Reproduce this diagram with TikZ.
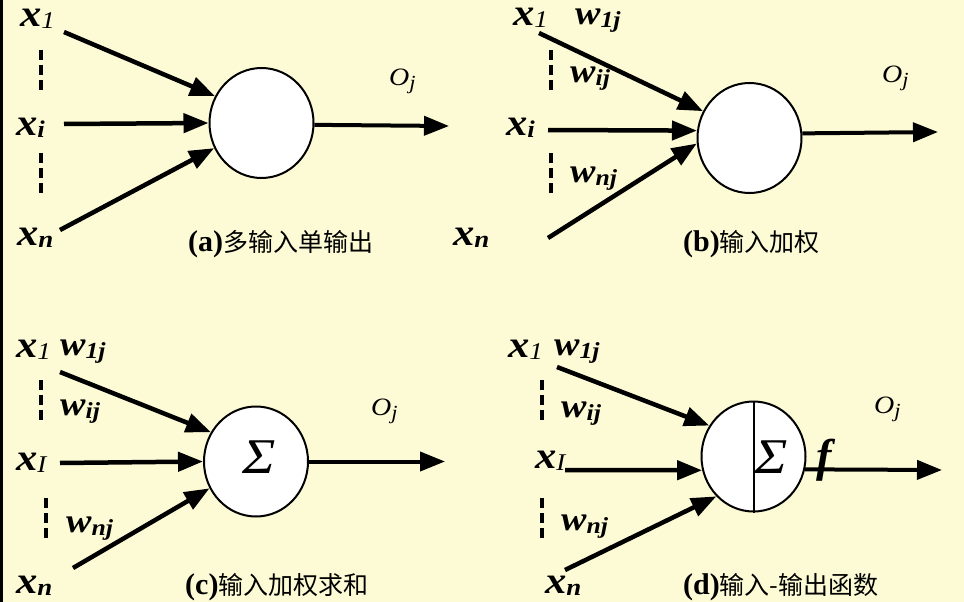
\documentclass[tikz,border=0pt]{standalone}
\usepackage{fontspec}
\usepackage{graphicx}
\setmainfont{Liberation Serif}
\newfontfamily\cjk{Noto Sans CJK SC}
\usetikzlibrary{arrows.meta,shapes.geometric}
\definecolor{bgyel}{RGB}{253,251,213}
\newcommand{\stretchx}[1]{\scalebox{1.12}[1]{#1}}
\newcommand{\vx}[1]{\stretchx{{\fontsize{38}{38}\selectfont\bfseries\itshape x}\raisebox{-2pt}{\fontsize{24}{24}\selectfont #1}}}
\newcommand{\vw}[1]{\stretchx{{\fontsize{34}{34}\selectfont\bfseries\itshape w}\raisebox{-3pt}{\fontsize{23}{23}\selectfont\bfseries\itshape #1}}}
\newcommand{\vo}{\stretchx{{\fontsize{25}{25}\selectfont\itshape O}\raisebox{-4pt}{\fontsize{20}{20}\selectfont\itshape j}}}
\newcommand{\capt}[2]{{\fontsize{30}{30}\selectfont\bfseries (#1)}{\fontsize{25}{25}\selectfont\cjk #2}}
\newcommand{\sig}{\stretchx{{\fontsize{50}{50}\selectfont\itshape Σ}}}
\begin{document}
\begin{tikzpicture}[x=1pt,y=-1pt,
  neuron/.style={ellipse,draw=black,fill=white,line width=2pt,inner sep=0pt,minimum width=104pt,minimum height=110pt},
  lab/.style={inner sep=0pt,anchor=base west},
  mid/.style={inner sep=0pt,anchor=center},
  arr/.style={line width=4.5pt,-{Triangle[length=25pt,width=19pt]}},
  outarr/.style={line width=4pt,-{Triangle[length=25pt,width=19pt]}},
  dashln/.style={line width=4pt,dash pattern=on 10pt off 5pt}]
\fill[bgyel] (0,0) rectangle (964,602);
\fill[black] (0,0) rectangle (3,602);
\useasboundingbox (0,0) rectangle (964,602);

% ---------- (a)
\node[neuron] (ca) at (261.5,123) {};
\node[lab] (ax1) at (20,27) {\vx{\itshape 1}};
\node[lab] (axi) at (16,135) {\vx{\bfseries\itshape i}};
\node[lab] (axn) at (17,245) {\vx{\bfseries\itshape n}};
\node[lab] (aoj) at (389,85) {\vo};
\node[lab] (acap) at (188,251) {\capt{a}{多输入单输出}};
\coordinate (a1) at (64,32);
\coordinate (ai) at (64,124);
\coordinate (an) at (60,230);
\coordinate (aout) at (449,126);
\coordinate (ad1a) at (41,50);  \coordinate (ad1b) at (41,92);
\coordinate (ad2a) at (41,153); \coordinate (ad2b) at (41,195);
\draw[dashln] (ad1a) -- (ad1b);
\draw[dashln] (ad2a) -- (ad2b);
\draw[arr] (a1) -- (ca.150);
\draw[arr] (ai) -- (ca.180);
\draw[arr] (an) -- (ca.208);
\draw[outarr] (ca.-2) -- (aout);

% ---------- (b)
\node[neuron] (cb) at (749.5,138) {};
\node[lab] (bx1) at (513,26) {\vx{\itshape 1}};
\node[lab] (bw1) at (575,25) {\vw{1j}};
\node[lab] (bwi) at (570,82) {\vw{ij}};
\node[lab] (bwn) at (570,182) {\vw{nj}};
\node[lab] (bxi) at (506,135) {\vx{\bfseries\itshape i}};
\node[lab] (bxn) at (453,245) {\vx{\bfseries\itshape n}};
\node[lab] (boj) at (882,83) {\vo};
\node[lab] (bcap) at (683,251) {\capt{b}{输入加权}};
\coordinate (b1) at (539,33);
\coordinate (bi) at (548,130);
\coordinate (bn) at (548,238);
\coordinate (bout) at (938,132);
\coordinate (bd1a) at (551,50);  \coordinate (bd1b) at (551,92);
\coordinate (bd2a) at (551,153); \coordinate (bd2b) at (551,195);
\draw[dashln] (bd1a) -- (bd1b);
\draw[dashln] (bd2a) -- (bd2b);
\draw[arr] (b1) -- (cb.150);
\draw[arr] (bi) -- (cb.172);
\draw[arr] (bn) -- (cb.186);
\draw[outarr] (cb.5) -- (bout);

% ---------- (c)
\node[neuron] (cc) at (256,461.5) {};
\node[mid] (csig) at (259.5,457) {\sig};
\node[lab] (cx1) at (16,357) {\vx{\itshape 1}};
\node[lab] (cw1) at (60,355) {\vw{1j}};
\node[lab] (cwi) at (60,415) {\vw{ij}};
\node[lab] (cwn) at (66,532) {\vw{nj}};
\node[lab] (cxi) at (16,470) {\vx{\itshape I}};
\node[lab] (cxn) at (16,593) {\vx{\bfseries\itshape n}};
\node[lab] (coj) at (371,415) {\vo};
\node[lab] (ccap) at (185,594) {\capt{c}{输入加权求和}};
\coordinate (c1) at (60,372);
\coordinate (ci) at (60,463);
\coordinate (cn) at (73,568);
\coordinate (cout) at (445,461.5);
\coordinate (cd1a) at (41,380);  \coordinate (cd1b) at (41,422);
\coordinate (cd2a) at (46,498);  \coordinate (cd2b) at (46,540);
\draw[dashln] (cd1a) -- (cd1b);
\draw[dashln] (cd2a) -- (cd2b);
\draw[arr] (c1) -- (cc.147);
\draw[arr] (ci) -- (cc.180);
\draw[arr] (cn) -- (cc.210);
\draw[outarr] (cc.east) -- (cout);

% ---------- (d)
\node[neuron] (cd) at (753.5,456.5) {};
\draw[line width=2pt] (cd.north) -- (cd.south);
\node[mid] (dsig) at (771,457) {\sig};
\node[mid] (df) at (824,460) {{\fontsize{46}{46}\selectfont\bfseries\itshape f}};
\node[lab] (dx1) at (508,357) {\vx{\itshape 1}};
\node[lab] (dw1) at (554,355) {\vw{1j}};
\node[lab] (dwi) at (561,417) {\vw{ij}};
\node[lab] (dwn) at (561,530) {\vw{nj}};
\node[lab] (dxi) at (535,468) {\vx{\itshape I}};
\node[lab] (dxn) at (545,593) {\vx{\bfseries\itshape n}};
\node[lab] (doj) at (874,413) {\vo};
\node[lab] (dcap) at (683,594) {\capt{d}{输入-输出函数}};
\coordinate (d1) at (557,367);
\coordinate (di) at (565,470);
\coordinate (dn) at (565,570);
\coordinate (dout) at (942,470);
\coordinate (dd1a) at (542,380);  \coordinate (dd1b) at (542,422);
\coordinate (dd2a) at (542,498);  \coordinate (dd2b) at (542,540);
\draw[dashln] (dd1a) -- (dd1b);
\draw[dashln] (dd2a) -- (dd2b);
\draw[arr] (d1) -- (cd.145);
\draw[arr] (di) -- (cd.195);
\draw[arr] (dn) -- (cd.227);
\draw[outarr] (cd.-14) -- (dout);
\end{tikzpicture}
\end{document}
